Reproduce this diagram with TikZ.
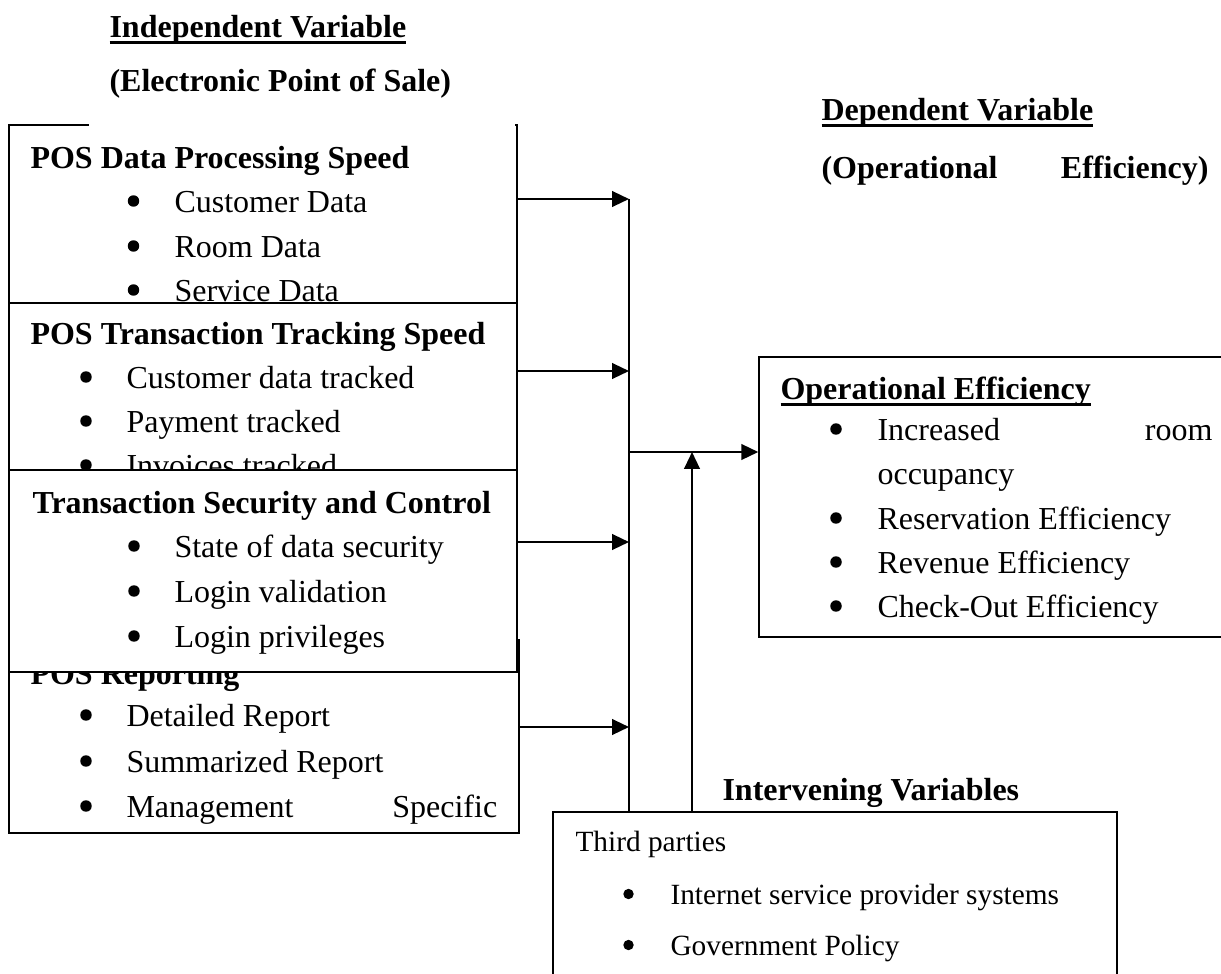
\documentclass[tikz,border=0pt]{standalone}
\usepackage{fontspec}
\setmainfont{Liberation Serif}
\usetikzlibrary{arrows.meta,fit}
\newsavebox{\myulbox}
\newcommand{\myul}[1]{\sbox{\myulbox}{#1}\rlap{\rule[-2.4pt]{\wd\myulbox}{1.1pt}}\usebox{\myulbox}}
\newcommand{\blt}[2]{\fill (#1,#2) circle (2.15pt);}
\newcommand{\blts}[2]{\fill (#1,#2) circle (1.95pt);}
\begin{document}
\begin{tikzpicture}[x=0.375pt,y=-0.375pt,
  box/.style={draw, line width=0.55pt, fill=white, inner sep=0pt},
  txt/.style={anchor=base west, inner sep=0pt, yshift=-1.1pt, font=\fontsize{12}{14}\selectfont},
  hd/.style={anchor=base west, inner sep=0pt, yshift=-1.1pt, font=\fontsize{12}{14}\selectfont\bfseries},
  sm/.style={anchor=base west, inner sep=0pt, yshift=-1.1pt, font=\fontsize{11}{13}\selectfont},
  arr/.style={line width=0.85pt, -{Triangle[length=6.3pt,width=5.8pt]}},
  ln/.style={line width=0.6pt}]
\clip (0,0) rectangle (1221,973);
\fill[white] (0,0) rectangle (1221,973);

% titles
\node[hd] (t1) at (109,35) {\myul{Independent Variable}};
\node[hd] (t2) at (109,89) {(Electronic Point of Sale)};
\node[hd] (t3) at (821,118) {\myul{Dependent Variable}};
\node[hd] (t4) at (821,176) {\makebox[145.1pt][s]{(Operational Efficiency)}};

% box 1
\node[box, fit={(9,125)(517,305)}] (b1) {};
\fill[white] (89,112) rectangle (515,127);
\node[hd] (b1h) at (30,166) {POS Data Processing Speed};
\blt{133.5}{201}\node[txt] (b1a) at (174,210) {Customer Data};
\blt{133.5}{246}\node[txt] (b1b) at (174,255) {Room Data};
\blt{133.5}{290}\node[txt] (b1c) at (174,299) {Service Data};

% box 2
\node[box, fit={(9,303)(517,470)}] (b2) {};
\node[hd] (b2h) at (30,342) {POS Transaction Tracking Speed};
\blt{86}{377}\node[txt] (b2a) at (126,386) {Customer data tracked};
\blt{86}{421}\node[txt] (b2b) at (126,430) {Payment tracked};
\blt{86}{465}\node[txt] (b2c) at (126,474) {Invoices tracked};

% box 4 (behind box 3)
\node[box, fit={(9,640)(519,833)}] (b4) {};
\node[hd] (b4h) at (30,682) {POS Reporting};
\blt{86}{715}\node[txt] (b4a) at (126,724) {Detailed Report};
\blt{86}{761}\node[txt] (b4b) at (126,770) {Summarized Report};
\blt{86}{806}\node[txt] (b4c) at (126,815) {\makebox[139pt][s]{Management Specific}};

% box 3
\node[box, fit={(9,470)(517,672)}] (b3) {};
\node[hd] (b3h) at (32,511) {Transaction Security and Control};
\blt{134}{546}\node[txt] (b3a) at (174,555) {State of data security};
\blt{134}{591}\node[txt] (b3b) at (174,600) {Login validation};
\blt{134}{636}\node[txt] (b3c) at (174,645) {Login privileges};

% dependent box
\node[box, fit={(759,357)(1240,637)}] (oe) {};
\node[hd] (oeh) at (780,397) {\myul{Operational Efficiency}};
\blt{836}{429}\node[txt] (oea) at (877,438) {\makebox[125.6pt][s]{Increased room}};
\node[txt] (oea2) at (877,482) {occupancy};
\blt{836}{518}\node[txt] (oeb) at (877,527) {Reservation Efficiency};
\blt{836}{562}\node[txt] (oec) at (877,571) {Revenue Efficiency};
\blt{836}{606}\node[txt] (oed) at (877,615) {Check-Out Efficiency};

% intervening
\node[hd] (ivh) at (722,798) {Intervening Variables};
\node[box, fit={(553,812)(1117,995)}] (tp) {};
\node[sm] (tph) at (575,849) {Third parties};
\blts{628.5}{894}\node[sm] (tpa) at (670,902) {Internet service provider systems};
\blts{628.5}{945}\node[sm] (tpb) at (670,953) {Government Policy};

% connectors
\coordinate (v1) at (629,199);
\coordinate (v2) at (629,371);
\coordinate (v3) at (629,542);
\coordinate (v4) at (629,727);
\coordinate (vm) at (629,452);
\coordinate (up) at (692,452);
\draw[ln] (v1) -- (tp.north -| v1);
\draw[arr] (b1.east |- v1) -- (v1);
\draw[arr] (b2.east |- v2) -- (v2);
\draw[arr] (b3.east |- v3) -- (v3);
\draw[arr] (b4.east |- v4) -- (v4);
\draw[arr] (vm) -- (oe.west |- vm);
\draw[arr] (tp.north -| up) -- (up);
\end{tikzpicture}
\end{document}
